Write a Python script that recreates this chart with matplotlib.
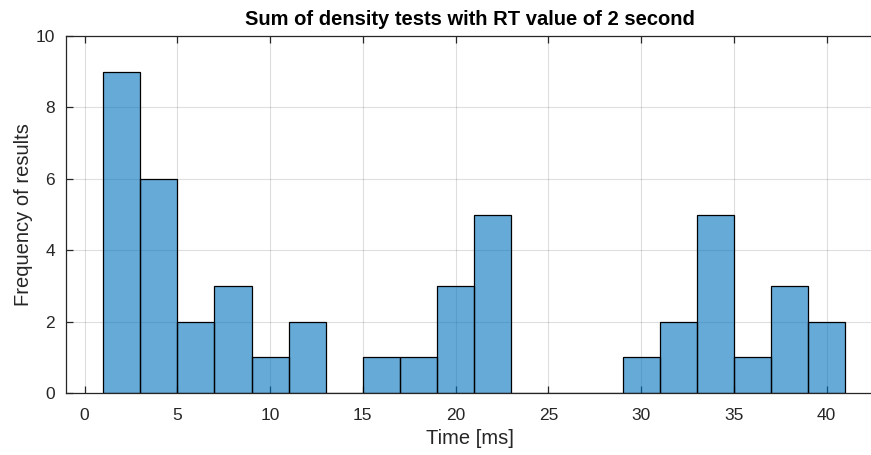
import matplotlib
matplotlib.use("Agg")
import matplotlib.pyplot as plt
import numpy as np

bin_edges = [1, 3, 5, 7, 9, 11, 13, 15, 17, 19, 21, 23, 25, 27, 29, 31, 33, 35, 37, 39, 41]
counts = [9, 6, 2, 3, 1, 2, 0, 1, 1, 3, 5, 0, 0, 0, 1, 2, 5, 1, 3, 2]
x_ticks = [0, 5, 10, 15, 20, 25, 30, 35, 40]
y_ticks = [0, 2, 4, 6, 8, 10]
title = "Sum of density tests with RT value of 2 second"
xlabel = "Time [ms]"
ylabel = "Frequency of results"

plt.rcParams['font.family'] = ['Liberation Sans', 'DejaVu Sans']
W, H = 871, 455
fig = plt.figure(figsize=(W / 100, H / 100), dpi=100)
ax = fig.add_axes([66 / W, 1 - 393 / H, (W + 2 - 66) / W, (393 - 36) / H])

edges = np.array(bin_edges)
ax.bar(edges[:-1], counts, width=np.diff(edges), align='edge',
       color='#0072BD', alpha=0.6, edgecolor='none', zorder=2)
ax.bar(edges[:-1], counts, width=np.diff(edges), align='edge',
       facecolor='none', edgecolor='black', linewidth=0.9, zorder=3)

ax.set_xlim(-1, 42.5)
ax.set_ylim(0, 10)
ax.set_xticks(x_ticks)
ax.set_yticks(y_ticks)
ax.grid(True, color='#262626', alpha=0.15, linewidth=0.8, zorder=0)
ax.set_axisbelow(True)
axis_col = '#262626'
for s in ['left', 'bottom', 'top']:
    ax.spines[s].set_color(axis_col)
    ax.spines[s].set_linewidth(0.9)
ax.spines['right'].set_visible(False)
ax.tick_params(direction='in', length=5, width=0.9, color=axis_col,
               labelsize=12.5, labelcolor=axis_col, top=True)
ax.tick_params(axis='x', pad=11)
ax.tick_params(axis='y', pad=8)
ax.set_title(title, fontsize=14.5, fontweight='bold', pad=8)
ax.set_xlabel(xlabel, fontsize=14.5, color=axis_col, labelpad=4)
ax.set_ylabel(ylabel, fontsize=14.5, color=axis_col, labelpad=2)

fig.savefig("out.png", dpi=100)
